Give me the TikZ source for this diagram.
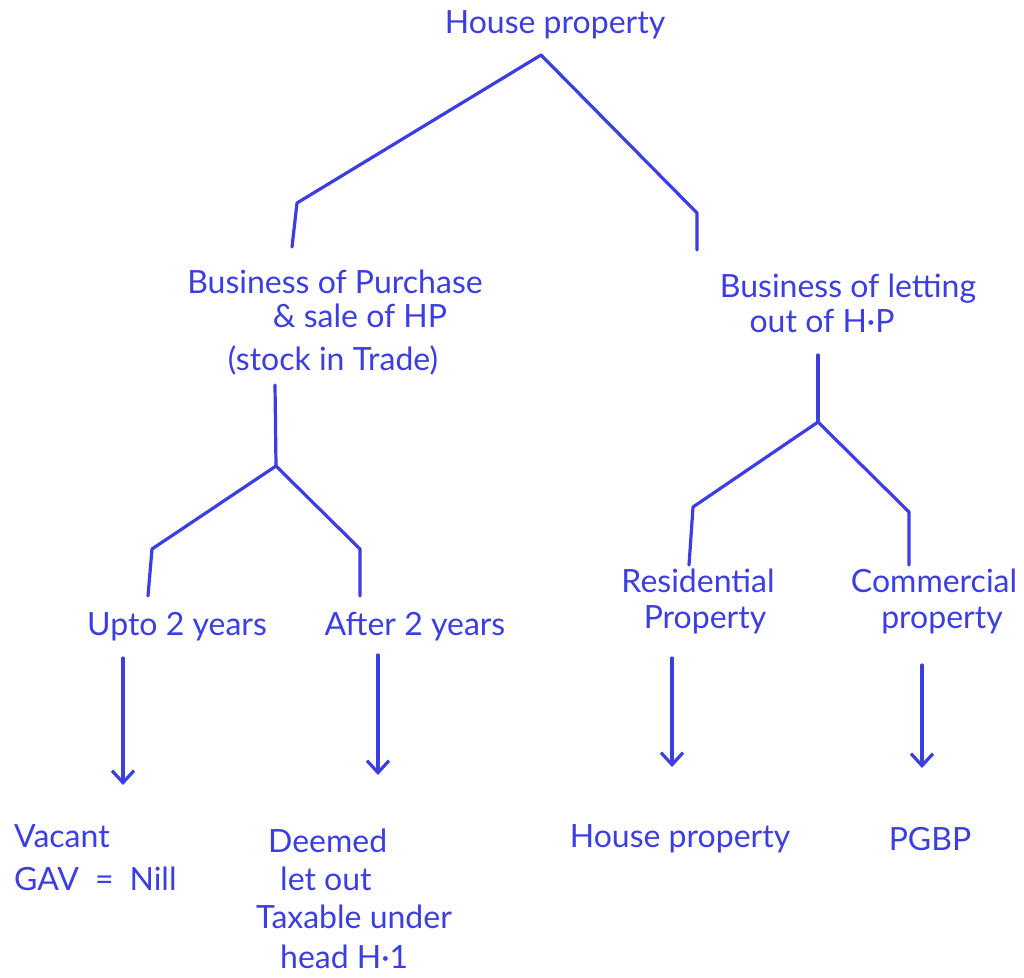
\documentclass[tikz,border=0pt]{standalone}
\usepackage{fontspec}
\setmainfont{Lato}
\usetikzlibrary{arrows.meta}
\definecolor{ink}{RGB}{60,62,225}
\begin{document}
\begin{tikzpicture}[x=1pt,y=-1pt,
  lbl/.style={text=ink, font=\fontsize{32}{36}\selectfont, inner sep=0pt, anchor=base},
  lblw/.style={lbl, anchor=base west},
  branch/.style={draw=ink, line width=3.2pt, line join=round, line cap=round},
  pointer/.style={branch, -{Straight Barb[length=12pt,width=22pt]}}]

\useasboundingbox (0,0) rectangle (1024,977);
\fill[white] (0,0) rectangle (1024,977);

% labels
\node[lbl] (root) at (555,33) {House property};
\node[lbl] (bp1) at (335,293) {Business of Purchase};
\node[lbl] (bp2) at (360,327) {\& sale of HP};
\node[lbl] (bp3) at (333,370) {(stock in Trade)};
\node[lbl] (bl1) at (848,297) {Business of letting};
\node[lbl] (bl2) at (822,332) {out of H·P};
\node[lbl] (up) at (177,635) {Upto 2 years};
\node[lbl] (af) at (415,635) {After 2 years};
\node[lbl] (res1) at (698,592) {Residential};
\node[lbl] (res2) at (705,628) {Property};
\node[lbl] (com1) at (934,592) {Commercial};
\node[lbl] (com2) at (942,628) {property};
\node[lblw] (vac1) at (14,847) {Vacant};
\node[lblw] (vac2) at (14,890) {GAV\enspace=\enspace Nill};
\node[lblw] (dl1) at (268,852) {Deemed};
\node[lblw] (dl2) at (280,890) {let out};
\node[lblw] (dl3) at (256,928) {Taxable under};
\node[lblw] (dl4) at (280,968) {head H·1};
\node[lbl] (hp) at (680,847) {House property};
\node[lbl] (pgbp) at (930,850) {PGBP};

% branch points
\coordinate (apex) at (541,55);
\coordinate (lk) at (297,203);  \coordinate (le) at (292,247);
\coordinate (rk) at (697,213);  \coordinate (re) at (697,250);
\coordinate (ls) at (275,385);  \coordinate (lj) at (276,466);
\coordinate (llk) at (152,549); \coordinate (lle) at (148,596);
\coordinate (lrk) at (360,549); \coordinate (lre) at (360,596);
\coordinate (rs) at (818,355);  \coordinate (rj) at (818,422);
\coordinate (rlk) at (693,507); \coordinate (rle) at (689,565);
\coordinate (rrk) at (909,512); \coordinate (rre) at (909,565);
\coordinate (a1s) at (123,658); \coordinate (a1e) at (123,785);
\coordinate (a2s) at (378,655); \coordinate (a2e) at (378,775);
\coordinate (a3s) at (672,658); \coordinate (a3e) at (672,767);
\coordinate (a4s) at (922,665); \coordinate (a4e) at (922,768);

% tree
\draw[branch] (le) -- (lk) -- (apex) -- (rk) -- (re);
\draw[branch] (ls) -- (lj);
\draw[branch] (lle) -- (llk) -- (lj) -- (lrk) -- (lre);
\draw[branch] (rs) -- (rj);
\draw[branch] (rle) -- (rlk) -- (rj) -- (rrk) -- (rre);

% outcomes
\draw[pointer] (a1s) -- (a1e);
\draw[pointer] (a2s) -- (a2e);
\draw[pointer] (a3s) -- (a3e);
\draw[pointer] (a4s) -- (a4e);
\end{tikzpicture}
\end{document}
